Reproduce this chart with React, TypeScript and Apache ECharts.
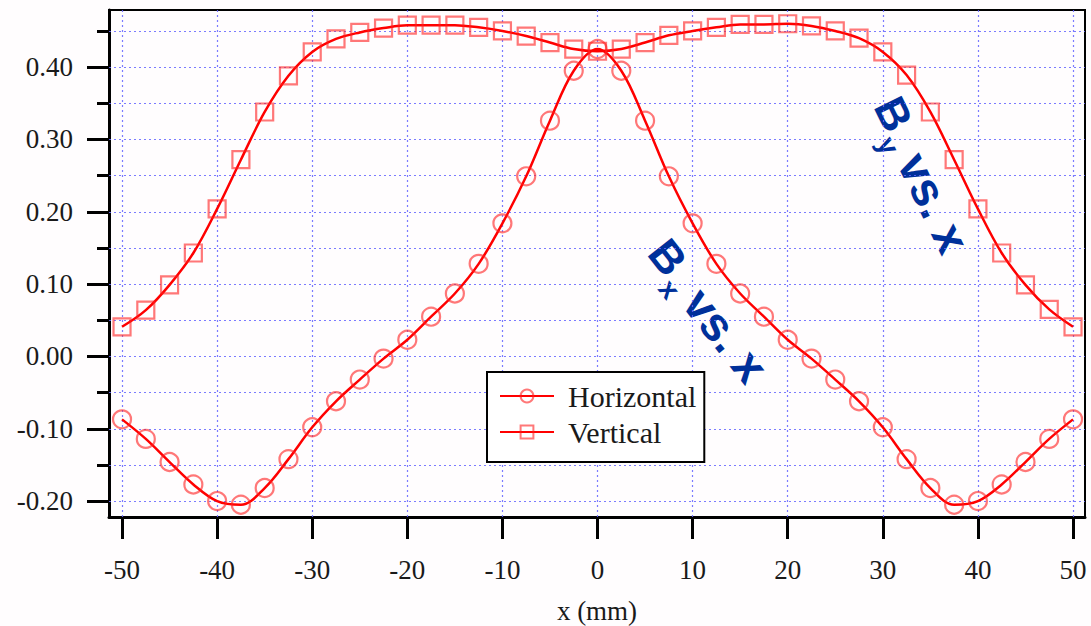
import React, { useEffect, useRef } from "react";
import * as echarts from "echarts";

const xs = [-50, -47.5, -45, -42.5, -40, -37.5, -35, -32.5, -30, -27.5, -25, -22.5, -20, -17.5, -15, -12.5, -10, -7.5, -5, -2.5, 0,
  2.5, 5, 7.5, 10, 12.5, 15, 17.5, 20, 22.5, 25, 27.5, 30, 32.5, 35, 37.5, 40, 42.5, 45, 47.5, 50];

const horizontal = [-0.087, -0.114, -0.146, -0.177, -0.200, -0.205, -0.182, -0.142, -0.098, -0.062, -0.032, -0.003, 0.023, 0.055, 0.087, 0.128, 0.184, 0.249, 0.326, 0.395, 0.425,
  0.395, 0.326, 0.249, 0.184, 0.128, 0.087, 0.055, 0.023, -0.003, -0.032, -0.062, -0.098, -0.142, -0.182, -0.205, -0.200, -0.177, -0.146, -0.114, -0.087];

const vertical = [0.041, 0.064, 0.099, 0.143, 0.204, 0.272, 0.338, 0.388, 0.421, 0.439, 0.448, 0.454, 0.458, 0.458, 0.458, 0.455, 0.450, 0.443, 0.434, 0.425, 0.422,
  0.425, 0.434, 0.444, 0.450, 0.455, 0.459, 0.459, 0.460, 0.457, 0.450, 0.440, 0.421, 0.389, 0.338, 0.272, 0.204, 0.143, 0.099, 0.065, 0.041];

const xTicks = [-50, -40, -30, -20, -10, 0, 10, 20, 30, 40, 50];
const yMajorTicks = [-0.2, -0.1, 0, 0.1, 0.2, 0.3, 0.4];
const yMinorTicks = [-0.15, -0.05, 0.05, 0.15, 0.25, 0.35, 0.45];
const yGridValues = [-0.2, -0.15, -0.1, -0.05, 0, 0.05, 0.1, 0.15, 0.2, 0.25, 0.3, 0.35, 0.4, 0.45];

const seriesNames = ["Horizontal", "Vertical"];
const xAxisName = "x (mm)";

const SERIF = "'Liberation Serif', 'Times New Roman', serif";
const SANS = "'Liberation Sans', Arial, sans-serif";
const BLUE = "#00309a";

function annotation(x: number, y: number, rotation: number, sub: string) {
  return {
    type: "group",
    x,
    y,
    rotation,
    z: 100,
    children: [
      { type: "text", x: 0, y: 0, style: { text: "B", font: `bold 44px ${SANS}`, fill: BLUE, align: "center", verticalAlign: "middle" } },
      { type: "text", x: 26, y: 19, style: { text: sub, font: `bold 28px ${SANS}`, fill: BLUE, align: "center", verticalAlign: "middle" } },
      { type: "text", x: 45, y: 3, style: { text: "vs. x", font: `bold 47px ${SANS}`, fill: BLUE, align: "left", verticalAlign: "middle" } },
    ],
  };
}

export default function App() {
  const ref = useRef<HTMLDivElement>(null);
  useEffect(() => {
    const chart = echarts.init(ref.current!, null, { renderer: "svg" });
    const option: any = {
      animation: false,
      backgroundColor: "#fffdfe",
      grid: {
        left: 109,
        right: 6,
        top: 10,
        bottom: 109,
        show: true,
        borderColor: "#000",
        borderWidth: 2,
        backgroundColor: "transparent",
        outerBoundsMode: "none",
      },
      legend: {
        data: seriesNames,
        orient: "vertical",
        left: 487,
        top: 372,
        itemWidth: 54,
        itemHeight: 16,
        itemGap: 6,
        padding: [9, 8, 15, 12],
        borderColor: "#000",
        borderWidth: 2,
        backgroundColor: "#fff",
        textStyle: { fontFamily: SERIF, fontSize: 30, color: "#1a1a1a", padding: [0, 0, 0, 9] },
        selectedMode: false,
        z: 50,
      },
      xAxis: {
        type: "value",
        min: -51.37,
        max: 51.26,
        name: xAxisName,
        nameLocation: "middle",
        nameGap: 80,
        nameTextStyle: { fontFamily: SERIF, fontSize: 27, color: "#1a1a1a" },
        axisLine: { show: true, onZero: false, lineStyle: { color: "#000", width: 3 } },
        axisTick: { show: true, customValues: xTicks, length: 22, lineStyle: { color: "#000", width: 3 } },
        axisLabel: { customValues: xTicks, margin: 39, fontFamily: SERIF, fontSize: 27, color: "#1a1a1a", formatter: (v: number) => String(v) },
        splitLine: { show: false },
      },
      yAxis: [
        {
          type: "value",
          min: -0.222,
          max: 0.479,
          position: "left",
          axisLine: { show: true, onZero: false, lineStyle: { color: "#000", width: 3 } },
          axisTick: { show: true, customValues: yMajorTicks, length: 22, lineStyle: { color: "#000", width: 3 } },
          axisLabel: { customValues: yMajorTicks, margin: 36, fontFamily: SERIF, fontSize: 27, color: "#1a1a1a", formatter: (v: number) => v.toFixed(2) },
          splitLine: { show: false },
        },
        {
          type: "value",
          min: -0.222,
          max: 0.479,
          position: "left",
          axisLine: { show: false, onZero: false },
          axisTick: { show: true, customValues: yMinorTicks, length: 12, lineStyle: { color: "#000", width: 3 } },
          axisLabel: { show: false },
          splitLine: { show: false },
        },
      ],
      series: [
        {
          type: "line",
          name: "_grid",
          data: [],
          z: 1,
          silent: true,
          markLine: {
            silent: true,
            symbol: ["none", "none"],
            label: { show: false },
            emphasis: { disabled: true },
            lineStyle: { color: "rgba(100,100,255,0.85)", width: 1.2, type: [2, 3] },
            data: [...xTicks.map((v) => ({ xAxis: v })), ...yGridValues.map((v) => ({ yAxis: v }))],
          },
        },
        {
          type: "line",
          name: seriesNames[0],
          data: xs.map((x, i) => [x, horizontal[i]]),
          smooth: 0.35,
          symbol: "circle",
          symbolSize: 18,
          lineStyle: { color: "#ff0000", width: 2.5 },
          itemStyle: { color: "rgba(255,255,255,0)", borderColor: "rgba(255,30,30,0.6)", borderWidth: 2.2 },
          emphasis: { disabled: true },
          z: 10,
        },
        {
          type: "line",
          name: seriesNames[1],
          data: xs.map((x, i) => [x, vertical[i]]),
          smooth: 0.35,
          symbol: "rect",
          symbolSize: 17,
          lineStyle: { color: "#ff0000", width: 2.5 },
          itemStyle: { color: "rgba(255,255,255,0)", borderColor: "rgba(255,30,30,0.6)", borderWidth: 2.2 },
          emphasis: { disabled: true },
          z: 10,
        },
      ],
      graphic: [annotation(668, 257, -0.902, "x"), annotation(894, 114, -1.117, "y")],
    };
    chart.setOption(option);
    return () => chart.dispose();
  }, []);
  return <div ref={ref} style={{ position: "fixed", left: 0, top: 0, width: 1091, height: 626 }} />;
}
